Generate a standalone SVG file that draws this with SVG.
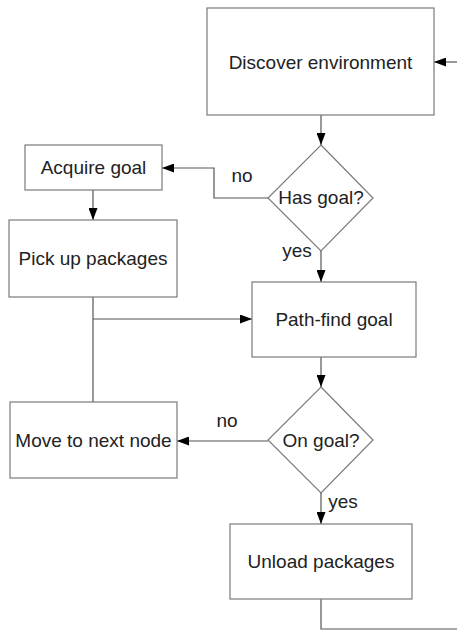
<svg xmlns="http://www.w3.org/2000/svg" width="457" height="630" viewBox="0 0 457 630">
  <style>
    .box { fill: #ffffff; stroke: #7a7a7a; stroke-width: 1.2; }
    .lbl { font-family: "Liberation Sans", Arial, sans-serif; font-size: 19px; fill: #222222; text-anchor: middle; }
    .wire { fill: none; stroke: #555555; stroke-width: 1.2; }
    .arrow { fill: none; stroke: #555555; stroke-width: 1.2; marker-end: url(#head); }
  </style>
  <defs>
    <marker id="head" viewBox="0 0 12 9" refX="12" refY="4.5" markerWidth="12" markerHeight="9" markerUnits="userSpaceOnUse" orient="auto">
      <path d="M0,0 L12,4.5 L0,9 Z" fill="#000000"/>
    </marker>
  </defs>
  <rect width="457" height="630" fill="#ffffff"/>

  <g id="connectors">
    <!-- loop back into Discover environment -->
    <path class="arrow" d="M457,62 H434"/>
    <!-- Discover -> Has goal? -->
    <path class="arrow" d="M321,115 V145"/>
    <!-- Has goal? no -> Acquire goal -->
    <path class="arrow" d="M268,198 H214 V168 H162"/>
    <!-- Acquire goal -> Pick up packages -->
    <path class="arrow" d="M93,190 V220"/>
    <!-- Has goal? yes -> Path-find goal -->
    <path class="arrow" d="M321,251 V282"/>
    <!-- Pick up packages / Move to next node -> Path-find goal -->
    <path class="wire" d="M93,297 V402"/>
    <path class="arrow" d="M93,319 H252"/>
    <!-- Path-find goal -> On goal? -->
    <path class="arrow" d="M321,357 V387"/>
    <!-- On goal? no -> Move to next node -->
    <path class="arrow" d="M268,441 H177"/>
    <!-- On goal? yes -> Unload packages -->
    <path class="arrow" d="M321,493 V524"/>
    <!-- Unload packages back to start -->
    <path class="wire" d="M321,599 V629 H457"/>
    <text class="lbl" x="242" y="182">no</text>
    <text class="lbl" x="297" y="257">yes</text>
    <text class="lbl" x="227" y="427">no</text>
    <text class="lbl" x="343" y="508">yes</text>
  </g>

  <g id="discover">
    <rect class="box" x="207" y="8" width="227" height="107"/>
    <text class="lbl" x="320.5" y="69">Discover environment</text>
  </g>

  <g id="has-goal">
    <path class="box" d="M321,145 L373,198 L321,251 L268,198 Z"/>
    <text class="lbl" x="321" y="204">Has goal?</text>
  </g>

  <g id="acquire-goal">
    <rect class="box" x="25" y="145" width="137" height="45"/>
    <text class="lbl" x="93.5" y="174">Acquire goal</text>
  </g>

  <g id="pick-up">
    <rect class="box" x="9" y="220" width="168" height="77"/>
    <text class="lbl" x="93" y="265">Pick up packages</text>
  </g>

  <g id="path-find">
    <rect class="box" x="252" y="282" width="164" height="75"/>
    <text class="lbl" x="334" y="326">Path-find goal</text>
  </g>

  <g id="on-goal">
    <path class="box" d="M321,387 L373,440 L321,493 L268,440 Z"/>
    <text class="lbl" x="321" y="447">On goal?</text>
  </g>

  <g id="move-next">
    <rect class="box" x="10" y="402" width="167" height="76"/>
    <text class="lbl" x="93.5" y="447">Move to next node</text>
  </g>

  <g id="unload">
    <rect class="box" x="230" y="524" width="182" height="75"/>
    <text class="lbl" x="321" y="568">Unload packages</text>
  </g>
</svg>
